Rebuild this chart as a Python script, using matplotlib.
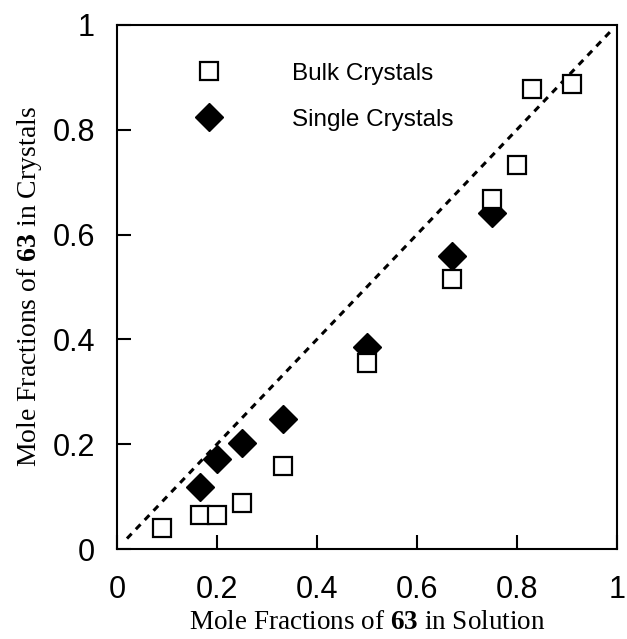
import numpy as np
import matplotlib.pyplot as plt

plt.rcParams['mathtext.fontset'] = 'custom'
plt.rcParams['mathtext.rm'] = 'Liberation Serif'
plt.rcParams['mathtext.bf'] = 'Liberation Serif:bold'

# Data
bulk_x = [0.09, 0.167, 0.20, 0.25, 0.333, 0.50, 0.67, 0.75, 0.80, 0.83, 0.91]
bulk_y = [0.04, 0.065, 0.065, 0.087, 0.158, 0.354, 0.515, 0.667, 0.733, 0.877, 0.888]
single_x = [0.167, 0.20, 0.25, 0.333, 0.50, 0.67, 0.75]
single_y = [0.119, 0.171, 0.202, 0.248, 0.385, 0.56, 0.642]
ticks = [0, 0.2, 0.4, 0.6, 0.8, 1]
tick_labels = ['0', '0.2', '0.4', '0.6', '0.8', '1']

fig = plt.figure(figsize=(6.27, 6.39), dpi=100)
ax = fig.add_axes([0.1866, 0.1408, 0.797, 0.8202])

# y = x reference line
ax.plot([0.02, 0.99], [0.02, 0.99], color='black', lw=2.2, ls=(0, (2.2, 2.0)))

ax.plot(single_x, single_y, 'D', color='black', ms=14.5, mec='black', label='Single Crystals')
ax.plot(bulk_x, bulk_y, 's', mfc='white', mec='black', mew=1.6, ms=13, label='Bulk Crystals')

ax.set_xlim(0, 1)
ax.set_ylim(0, 1)
ax.set_xticks(ticks)
ax.set_xticklabels(tick_labels, fontfamily='Liberation Sans', fontsize=22)
ax.set_yticks(ticks)
ax.set_yticklabels(tick_labels, fontfamily='Liberation Sans', fontsize=22)
ax.tick_params(axis='both', direction='in', length=10, width=1.5)
ax.tick_params(axis='x', pad=19)
ax.tick_params(axis='y', pad=16)
for s in ax.spines.values():
    s.set_linewidth(1.5)

ax.set_xlabel(r'Mole Fractions of $\mathbf{63}$ in Solution', fontfamily='Liberation Serif', fontsize=19.5, labelpad=3)
ax.set_ylabel(r'Mole Fractions of $\mathbf{63}$ in Crystals', fontfamily='Liberation Serif', fontsize=20, labelpad=6)

h, l = ax.get_legend_handles_labels()
ax.legend(h[::-1], l[::-1], loc='upper left', bbox_to_anchor=(0.092, 0.97), frameon=False,
          handletextpad=2.4, labelspacing=1.0, prop={'family': 'Liberation Sans', 'size': 17.5})

fig.savefig('out.png', dpi=100)
